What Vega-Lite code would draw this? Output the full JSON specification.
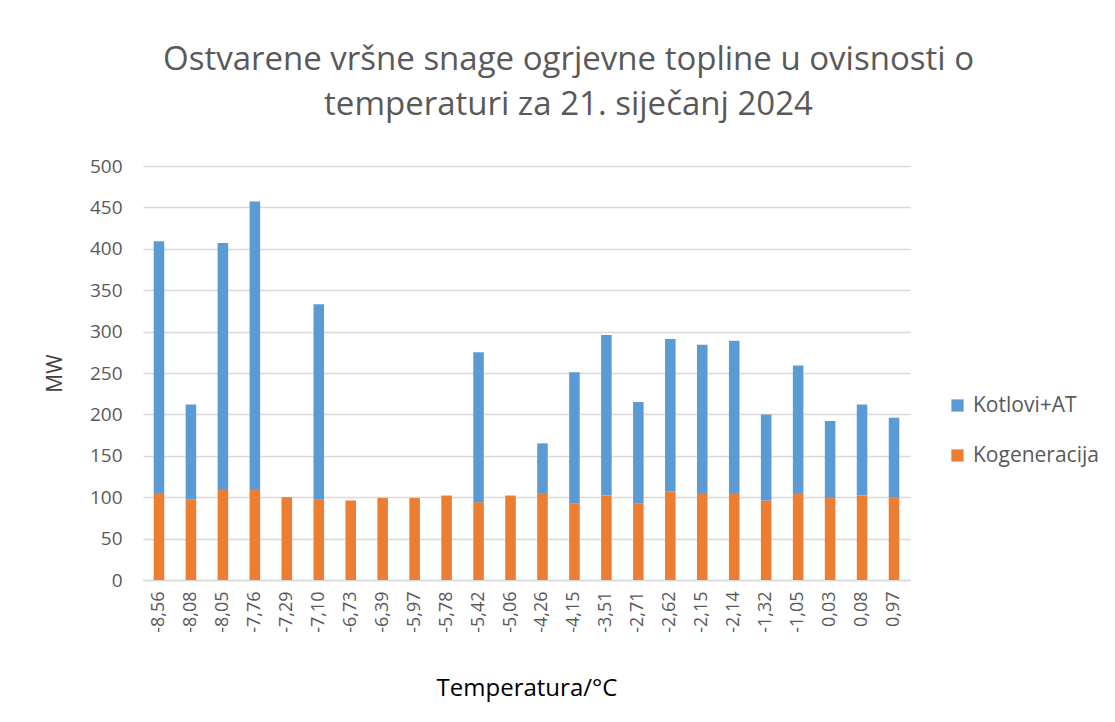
{
  "$schema": "https://vega.github.io/schema/vega-lite/v6.json",
  "width": 767,
  "height": 414,
  "autosize": "none",
  "padding": {"left": 143, "top": 166, "right": 205, "bottom": 142},
  "background": "white",
  "title": {
    "text": ["Ostvarene vršne snage ogrjevne topline u ovisnosti o", "temperaturi za 21. siječanj 2024"],
    "font": "Open Sans",
    "fontSize": 33,
    "fontWeight": "normal",
    "color": "#595959",
    "lineHeight": 45,
    "anchor": "middle",
    "dx": 42,
    "offset": 35
  },
  "data": {
    "values": [
      {"t": "-8,56", "series": "Kogeneracija", "mw": 105}, {"t": "-8,56", "series": "Kotlovi+AT", "mw": 304},
      {"t": "-8,08", "series": "Kogeneracija", "mw": 97}, {"t": "-8,08", "series": "Kotlovi+AT", "mw": 115},
      {"t": "-8,05", "series": "Kogeneracija", "mw": 110}, {"t": "-8,05", "series": "Kotlovi+AT", "mw": 297},
      {"t": "-7,76", "series": "Kogeneracija", "mw": 110}, {"t": "-7,76", "series": "Kotlovi+AT", "mw": 347},
      {"t": "-7,29", "series": "Kogeneracija", "mw": 100}, {"t": "-7,29", "series": "Kotlovi+AT", "mw": 0},
      {"t": "-7,10", "series": "Kogeneracija", "mw": 97}, {"t": "-7,10", "series": "Kotlovi+AT", "mw": 236},
      {"t": "-6,73", "series": "Kogeneracija", "mw": 96}, {"t": "-6,73", "series": "Kotlovi+AT", "mw": 0},
      {"t": "-6,39", "series": "Kogeneracija", "mw": 99}, {"t": "-6,39", "series": "Kotlovi+AT", "mw": 0},
      {"t": "-5,97", "series": "Kogeneracija", "mw": 99}, {"t": "-5,97", "series": "Kotlovi+AT", "mw": 0},
      {"t": "-5,78", "series": "Kogeneracija", "mw": 102}, {"t": "-5,78", "series": "Kotlovi+AT", "mw": 0},
      {"t": "-5,42", "series": "Kogeneracija", "mw": 94}, {"t": "-5,42", "series": "Kotlovi+AT", "mw": 181},
      {"t": "-5,06", "series": "Kogeneracija", "mw": 102}, {"t": "-5,06", "series": "Kotlovi+AT", "mw": 0},
      {"t": "-4,26", "series": "Kogeneracija", "mw": 104}, {"t": "-4,26", "series": "Kotlovi+AT", "mw": 61},
      {"t": "-4,15", "series": "Kogeneracija", "mw": 92}, {"t": "-4,15", "series": "Kotlovi+AT", "mw": 159},
      {"t": "-3,51", "series": "Kogeneracija", "mw": 102}, {"t": "-3,51", "series": "Kotlovi+AT", "mw": 194},
      {"t": "-2,71", "series": "Kogeneracija", "mw": 92}, {"t": "-2,71", "series": "Kotlovi+AT", "mw": 123},
      {"t": "-2,62", "series": "Kogeneracija", "mw": 107}, {"t": "-2,62", "series": "Kotlovi+AT", "mw": 184},
      {"t": "-2,15", "series": "Kogeneracija", "mw": 105}, {"t": "-2,15", "series": "Kotlovi+AT", "mw": 179},
      {"t": "-2,14", "series": "Kogeneracija", "mw": 105}, {"t": "-2,14", "series": "Kotlovi+AT", "mw": 184},
      {"t": "-1,32", "series": "Kogeneracija", "mw": 96}, {"t": "-1,32", "series": "Kotlovi+AT", "mw": 104},
      {"t": "-1,05", "series": "Kogeneracija", "mw": 105}, {"t": "-1,05", "series": "Kotlovi+AT", "mw": 154},
      {"t": "0,03", "series": "Kogeneracija", "mw": 99}, {"t": "0,03", "series": "Kotlovi+AT", "mw": 93},
      {"t": "0,08", "series": "Kogeneracija", "mw": 102}, {"t": "0,08", "series": "Kotlovi+AT", "mw": 110},
      {"t": "0,97", "series": "Kogeneracija", "mw": 100}, {"t": "0,97", "series": "Kotlovi+AT", "mw": 96}
    ]
  },
  "mark": {"type": "bar"},
  "encoding": {
    "x": {
      "field": "t",
      "type": "nominal",
      "sort": null,
      "scale": {"paddingInner": 0.67, "paddingOuter": 0.335},
      "axis": {
        "title": "Temperatura/°C",
        "titleFont": "Open Sans",
        "titleFontSize": 24,
        "titleFontWeight": "normal",
        "titleColor": "#000000",
        "titlePadding": 44,
        "labelAngle": -90,
        "labelFont": "Open Sans",
        "labelFontSize": 18,
        "labelColor": "#595959",
        "labelPadding": 11,
        "ticks": false,
        "domainColor": "#d9d9d9",
        "domainWidth": 1.5
      }
    },
    "y": {
      "field": "mw",
      "type": "quantitative",
      "stack": "zero",
      "scale": {"domain": [0, 500]},
      "axis": {
        "title": "MW",
        "titleFont": "Open Sans",
        "titleFontSize": 21,
        "titleFontWeight": "normal",
        "titleColor": "#404040",
        "titlePadding": 24,
        "values": [0, 50, 100, 150, 200, 250, 300, 350, 400, 450, 500],
        "labelFont": "Open Sans",
        "labelFontSize": 19,
        "labelColor": "#595959",
        "labelPadding": 21,
        "ticks": false,
        "domain": false,
        "gridColor": "#d9d9d9",
        "gridWidth": 1.5
      }
    },
    "color": {
      "field": "series",
      "type": "nominal",
      "scale": {"domain": ["Kotlovi+AT", "Kogeneracija"], "range": ["#5B9BD5", "#ED7D31"]},
      "legend": {
        "title": null,
        "orient": "none",
        "legendX": 804,
        "legendY": 229,
        "symbolType": "square",
        "symbolSize": 150,
        "symbolStrokeWidth": 0,
        "labelFont": "Open Sans",
        "labelFontSize": 21,
        "labelColor": "#595959",
        "rowPadding": 28,
        "labelOffset": 5
      }
    },
    "order": {"field": "series", "sort": "ascending"}
  },
  "config": {"view": {"stroke": null}}
}
